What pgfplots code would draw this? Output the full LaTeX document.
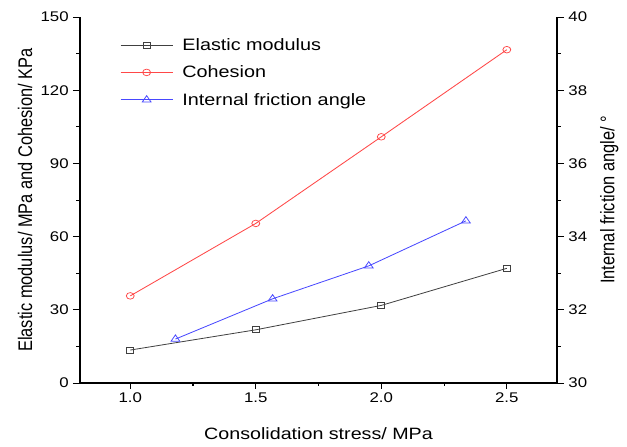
\documentclass[border=0pt]{standalone}
\usepackage{fontspec}
\setmainfont{Liberation Sans}
\usepackage{graphicx}
\usepackage{pgfplots}
\pgfplotsset{compat=1.18}
\definecolor{cblack}{HTML}{404040}
\definecolor{cred}{HTML}{FF4848}
\definecolor{cblue}{HTML}{4848FF}
\begin{document}
\scalebox{1.2}[1.0]{%
\begin{tikzpicture}
\pgfplotsset{
  every axis/.style={
    scale only axis, width=397.5pt, height=366pt,
    xmin=0.8, xmax=2.7,
    /pgf/number format/assume math mode=true,
    tick style={black, line width=0.9pt},
    major tick length=6pt, minor tick length=3pt,
    tick align=outside,
    axis line style={line width=1.1pt, black},
    every tick label/.append style={font=\fontsize{14}{16}\selectfont},
    label style={font=\fontsize{16.4}{19}\selectfont},
  }
}
\begin{axis}[
  axis x line*=bottom, axis y line*=left,
  ymin=0, ymax=150, ytick={0,30,60,90,120,150},
  minor ytick={15,45,75,105,135},
  xtick={1.0,1.5,2.0,2.5}, minor xtick={1.25,1.75,2.25},
  xticklabel style={/pgf/number format/.cd, fixed, fixed zerofill, precision=1},
  xlabel={Consolidation stress/ MPa},
  ylabel={Elastic modulus/ MPa and Cohesion/ KPa},
  xlabel style={yshift=-18pt},
  ylabel style={yshift=0pt},
]
\addplot[cblack, line width=0.8pt, mark=square, mark size=3pt, mark options={line width=0.7pt}]
  coordinates {(1.0,13.5) (1.5,21.8) (2.0,31.8) (2.5,47.0)};
\addplot[cred, line width=0.8pt, mark=o, mark size=3.3pt, mark options={line width=0.7pt}]
  coordinates {(1.0,35.7) (1.5,65.4) (2.0,100.9) (2.5,136.6)};
\end{axis}
\begin{axis}[
  axis x line=none, axis y line*=right,
  ymin=30, ymax=40, ytick={30,32,34,36,38,40},
  minor ytick={31,33,35,37,39},
  ylabel={Internal friction angle/ °},
  ylabel style={yshift=-4pt},
  legend style={draw=none, fill=none, inner sep=0pt, at={(axis description cs:0.0838,0.948)}, anchor=north west,
    font=\fontsize{16.5}{19}\selectfont, row sep=10pt},
  legend cell align=left,
  legend image code/.code={\draw[#1] (0pt,0pt) -- (43.3pt,0pt); \draw[#1, only marks] plot coordinates {(21.6pt,0pt)}; \path (49pt,0pt);},
]
\addlegendimage{cblack, line width=0.8pt, mark=square, mark size=3pt, mark options={line width=0.7pt}}
\addlegendentry{Elastic modulus}
\addlegendimage{cred, line width=0.8pt, mark=o, mark size=3.3pt, mark options={line width=0.7pt}}
\addlegendentry{Cohesion}
\addplot[cblue, line width=0.8pt, mark=triangle, mark size=4.2pt, mark options={line width=0.7pt}]
  coordinates {(1.18,31.2) (1.567,32.3) (1.95,33.2) (2.337,34.43)};
\addlegendentry{Internal friction angle}
\end{axis}
\path (current axis.south west) ++(-66.7pt,-64pt);
\path (current axis.north east) ++(58.3pt,17pt);
\end{tikzpicture}}
\end{document}
